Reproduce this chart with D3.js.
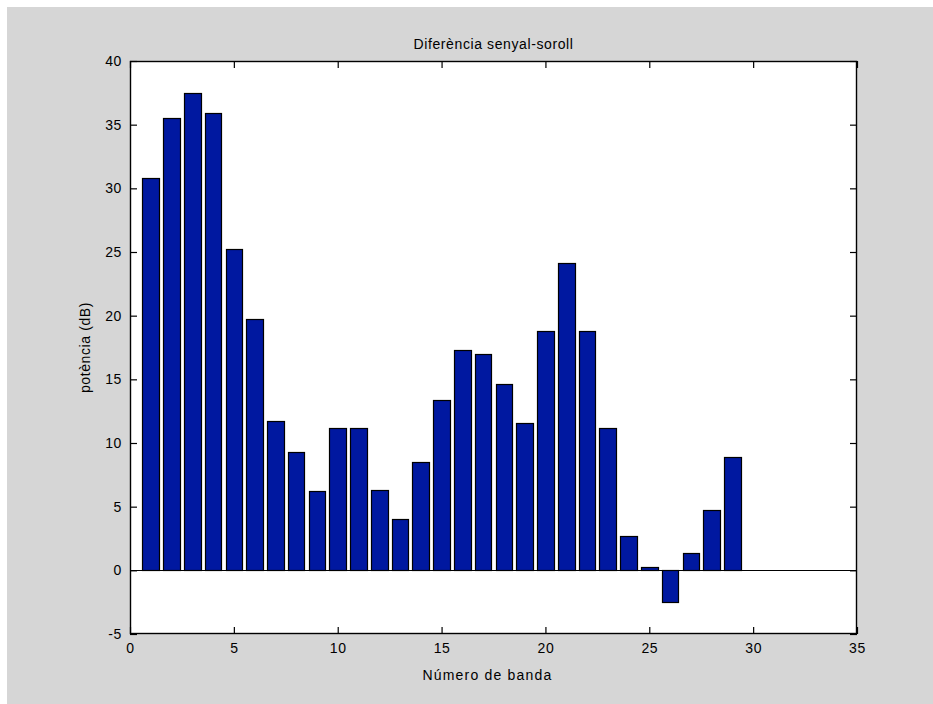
<!DOCTYPE html>
<html>
<head>
<meta charset="utf-8">
<script src="https://cdn.jsdelivr.net/npm/d3@7"></script>
<style>
  html, body { margin: 0; padding: 0; background: #ffffff; }
  svg { display: block; }
  text { font-family: "Liberation Sans", Arial, Helvetica, sans-serif; fill: #000; }
</style>
</head>
<body>
<script>
// Signal-to-noise difference per band (dB)
const bands = d3.range(1, 30);
const snrDb = [30.8, 35.5, 37.5, 35.9, 25.2, 19.7, 11.7, 9.3, 6.2, 11.2,
               11.2, 6.3, 4.0, 8.5, 13.4, 17.3, 17.0, 14.6, 11.6, 18.8,
               24.1, 18.8, 11.2, 2.7, 0.25, -2.5, 1.4, 4.7, 8.9];
const xTicks = [0, 5, 10, 15, 20, 25, 30, 35];
const yTicks = [-5, 0, 5, 10, 15, 20, 25, 30, 35, 40];
const titleText = "Diferència senyal-soroll";
const xLabel = "Número de banda";
const yLabel = "potència (dB)";

const W = 933, H = 704;
const plot = { left: 130, right: 857, top: 61, bottom: 634 };

const svg = d3.select("body").append("svg").attr("width", W).attr("height", H);

// Figure background
svg.append("rect").attr("x", 7).attr("y", 7).attr("width", W - 7).attr("height", H - 7)
  .attr("fill", "#d6d6d6");

// Axes background
svg.append("rect")
  .attr("x", plot.left).attr("y", plot.top)
  .attr("width", plot.right - plot.left).attr("height", plot.bottom - plot.top)
  .attr("fill", "#ffffff");

const x = d3.scaleLinear().domain([0, 35]).range([plot.left, plot.right]);
const y = d3.scaleLinear().domain([-5, 40]).range([plot.bottom, plot.top]);
const barW = 0.8;

// Bars
svg.append("g").selectAll("rect").data(bands).join("rect")
  .attr("x", (d) => Math.round(x(d - barW / 2)) + 0.5)
  .attr("width", (d) => Math.round(x(d + barW / 2)) - Math.round(x(d - barW / 2)))
  .attr("y", (d, i) => Math.round(y(Math.max(0, snrDb[i]))) + 0.5)
  .attr("height", (d, i) => Math.abs(Math.round(y(snrDb[i])) - Math.round(y(0))))
  .attr("fill", "#0018a0")
  .attr("stroke", "#000")
  .attr("stroke-width", 1.2);

// Baseline at zero
svg.append("line")
  .attr("x1", plot.left).attr("x2", plot.right)
  .attr("y1", Math.round(y(0)) + 0.5).attr("y2", Math.round(y(0)) + 0.5)
  .attr("stroke", "#000").attr("stroke-width", 1);

const tickLen = 7;
const fontSize = 14;
const plainNum = (d) => String(d); // plain hyphen for negatives

// Bottom axis with inward ticks
const gx = svg.append("g").attr("transform", `translate(0,${plot.bottom})`)
  .call(d3.axisBottom(x).tickValues(xTicks).tickFormat(plainNum)
    .tickSizeInner(-tickLen).tickSizeOuter(0).tickPadding(9));
// Top axis ticks (no labels)
const gxt = svg.append("g").attr("transform", `translate(0,${plot.top})`)
  .call(d3.axisTop(x).tickValues(xTicks).tickFormat("")
    .tickSizeInner(-tickLen).tickSizeOuter(0));
// Left axis
const gy = svg.append("g").attr("transform", `translate(${plot.left},0)`)
  .call(d3.axisLeft(y).tickValues(yTicks).tickFormat(plainNum)
    .tickSizeInner(-tickLen).tickSizeOuter(0).tickPadding(8));
// Right axis ticks (no labels)
const gyr = svg.append("g").attr("transform", `translate(${plot.right},0)`)
  .call(d3.axisRight(y).tickValues(yTicks).tickFormat("")
    .tickSizeInner(-tickLen).tickSizeOuter(0));

[gx, gxt, gy, gyr].forEach((g) => {
  g.select(".domain").remove();
  g.selectAll(".tick line").attr("stroke", "#000").attr("stroke-width", 1.2);
  g.selectAll(".tick text").attr("font-size", fontSize)
    .attr("font-family", "'Liberation Sans', Arial, sans-serif")
    .style("letter-spacing", "0.6px");
});

// Axes box
svg.append("rect")
  .attr("x", plot.left + 0.5).attr("y", plot.top + 0.5)
  .attr("width", plot.right - plot.left - 1).attr("height", plot.bottom - plot.top - 1)
  .attr("fill", "none").attr("stroke", "#000").attr("stroke-width", 1.4);

// Title and axis labels
const cx = (plot.left + plot.right) / 2;
svg.append("text").attr("x", cx).attr("y", 49)
  .attr("text-anchor", "middle").attr("font-size", fontSize)
  .style("letter-spacing", "0.6px").text(titleText);

svg.append("text").attr("x", cx - 6).attr("y", 680)
  .attr("text-anchor", "middle").attr("font-size", fontSize)
  .style("letter-spacing", "1.2px").text(xLabel);

svg.append("text")
  .attr("transform", `translate(90,${(plot.top + plot.bottom) / 2}) rotate(-90)`)
  .attr("text-anchor", "middle").attr("font-size", fontSize)
  .style("letter-spacing", "0.6px").text(yLabel);
</script>
</body>
</html>
